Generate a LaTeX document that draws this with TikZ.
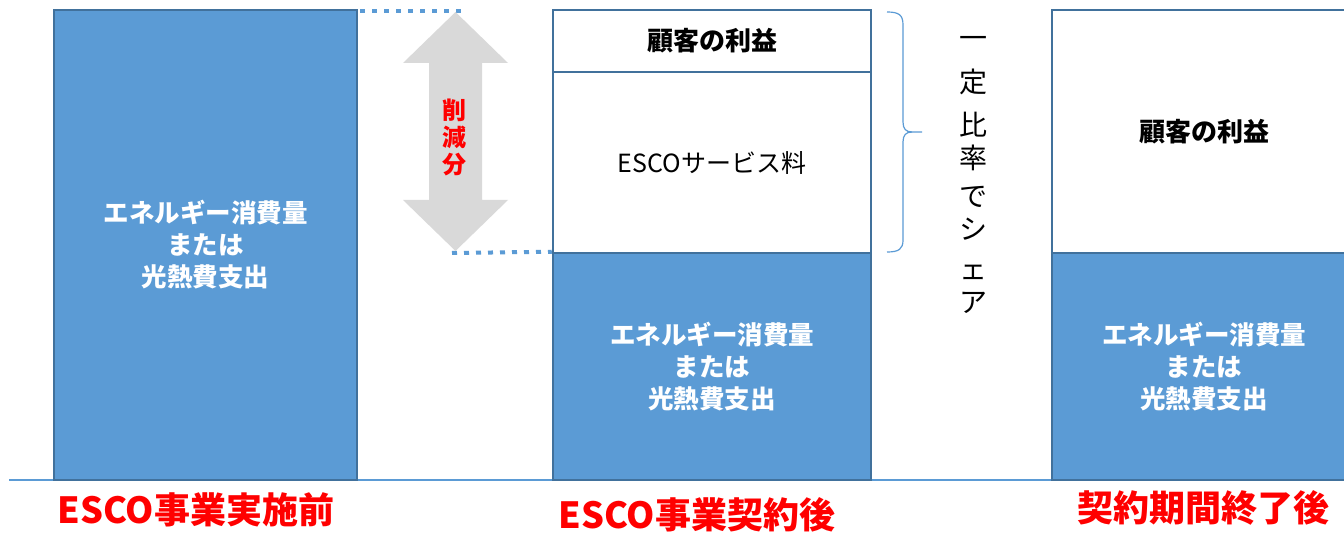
\documentclass[tikz,border=0pt]{standalone}
\usepackage{fontspec}
\newfontfamily\jp{Noto Sans CJK JP}
\definecolor{fillblue}{HTML}{5B9BD5}
\definecolor{edgeblue}{HTML}{41719C}
\definecolor{arrowgray}{HTML}{D9D9D9}
\definecolor{labelred}{HTML}{FF0000}
\tikzset{
  bluebox/.style={draw=edgeblue, fill=fillblue, line width=2.5pt, inner sep=0pt,
    text=white, align=center, font=\jp\bfseries\fontsize{25.5}{32}\selectfont},
  whitebox/.style={draw=edgeblue, fill=white, line width=2.5pt, inner sep=0pt,
    text=black, align=center, font=\jp\bfseries\fontsize{26}{30}\selectfont},
  redlabel/.style={text=labelred, inner sep=0pt, font=\jp\bfseries\fontsize{36}{40}\selectfont},
  vchar/.style={inner sep=0pt, font=\jp\fontsize{28}{30}\selectfont},
  dotline/.style={draw=fillblue, line width=4pt, dash pattern=on 5pt off 7pt},
  baseline/.style={draw=fillblue, line width=2pt},
  bracepath/.style={draw=fillblue, line width=1.2pt}
}
\begin{document}
\begin{tikzpicture}[x=1pt,y=-1pt]
\useasboundingbox (0,0) rectangle (1344,534);
\clip (0,0) rectangle (1344,534);
\fill[white] (0,0) rectangle (1344,534);

% ground line
\coordinate (g1) at (9,480);
\coordinate (g2) at (1344,480);
\draw[baseline] (g1) -- (g2);

% left column
\node[bluebox, minimum width=303pt, minimum height=470pt] (b1) at (205.5,245)
  {エネルギー消費量\\または\\光熱費支出};

% middle column
\node[whitebox, minimum width=318pt, minimum height=62pt] (m1) at (712,41) {顧客の利益};
\node[whitebox, minimum width=318pt, minimum height=181pt, font=\jp\fontsize{25}{30}\selectfont] (m2) at (712,162.5) {ESCOサービス料};
\node[bluebox, minimum width=318pt, minimum height=227pt] (m3) at (712,366.5)
  {エネルギー消費量\\または\\光熱費支出};

% right column
\node[whitebox, minimum width=304pt, minimum height=243pt] (r1) at (1204,131.5) {顧客の利益};
\node[bluebox, minimum width=304pt, minimum height=227pt] (r2) at (1204,366.5)
  {エネルギー消費量\\または\\光熱費支出};

% dotted guide lines
\coordinate (t1) at (360,11);
\coordinate (t2) at (463,11);
\coordinate (u1) at (452,253);
\draw[dotline] (t1) -- (t2);
\draw[dotline] (u1) -- (m3.north west);

% double arrow
\fill[arrowgray] (455.5,12) -- (508,63) -- (482,63) -- (482,200) -- (508,200)
  -- (455.5,251) -- (403,200) -- (429,200) -- (429,63) -- (403,63) -- cycle;
\node[text=labelred, align=center, inner sep=0pt,
  font=\jp\bfseries\fontsize{24}{27}\selectfont] (cut) at (454,137) {削\\減\\分};

% brace
\draw[bracepath] (887,12) .. controls (899,12) and (903,15) .. (903,25)
  -- (903,122) .. controls (903,129) and (906,132) .. (912,132) -- (922,132);
\draw[bracepath] (912,132) .. controls (906,132) and (903,135) .. (903,142)
  -- (903,240) .. controls (903,249) and (899,252) .. (887,252);

% vertical text
\node[vchar] (v1) at (973,42) {一};
\node[vchar] (v2) at (973,82) {定};
\node[vchar] (v3) at (973,125) {比};
\node[vchar] (v4) at (973,158) {率};
\node[vchar] (v5) at (973,197) {で};
\node[vchar] (v6) at (973,229) {シ};
\node[vchar] (v7) at (973,272) {ェ};
\node[vchar] (v8) at (973,303) {ア};

% bottom labels
\node[redlabel] (l1) at (196,510) {ESCO事業実施前};
\node[redlabel] (l2) at (697,515) {ESCO事業契約後};
\node[redlabel] (l3) at (1203,508) {契約期間終了後};
\end{tikzpicture}
\end{document}
